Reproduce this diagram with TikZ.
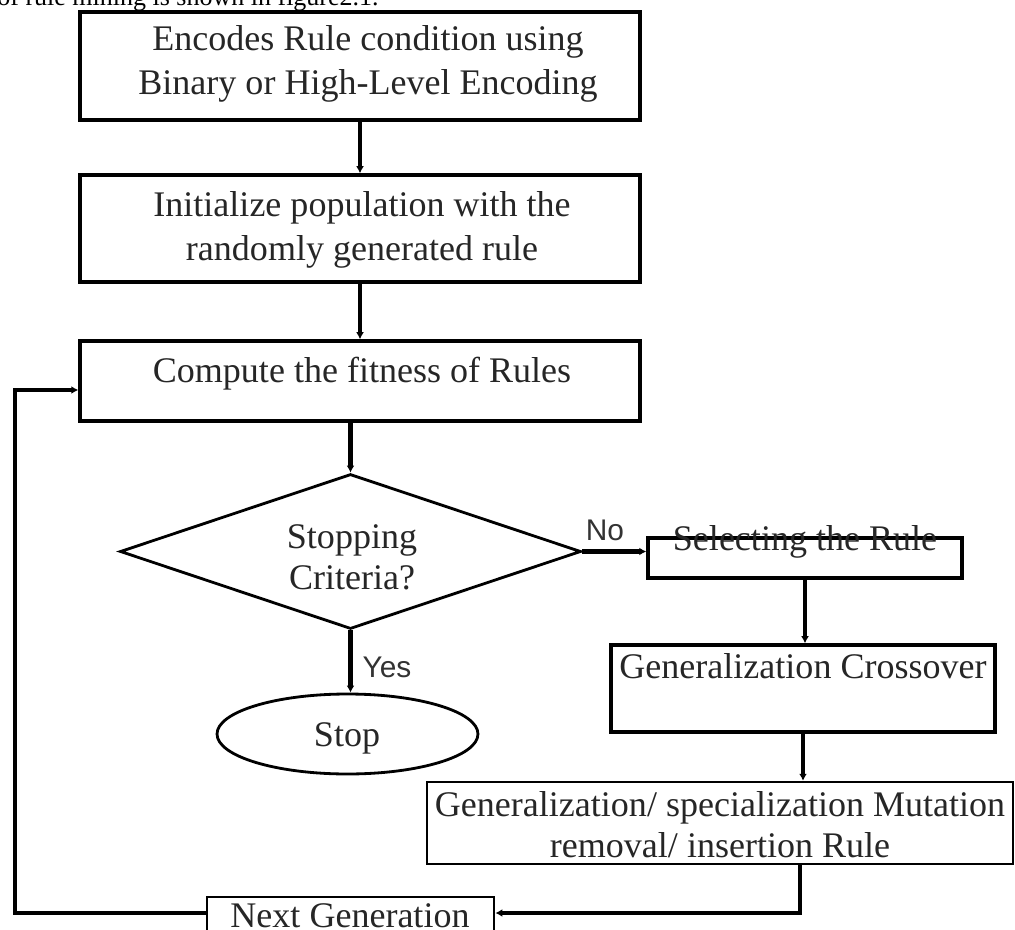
\documentclass[tikz,border=0pt]{standalone}
\usepackage{fontspec}
\setmainfont{Liberation Serif}
\newfontfamily\arialf{Liberation Sans}
\usetikzlibrary{shapes.geometric,arrows.meta}
\begin{document}
\begin{tikzpicture}[x=0.02cm,y=-0.02cm,
  box/.style={draw,rectangle,inner sep=0pt,line width=2pt},
  txt/.style={inner sep=0pt,align=center,font=\fontsize{20.5}{25}\selectfont,text=black!85},
  txtb/.style={txt,font=\fontsize{20.5}{23.3}\selectfont},
  conn/.style={line width=2.8pt,-{Latex[length=4pt,width=4.5pt]}},
  loopline/.style={line width=2.3pt,-{Latex[length=4pt,width=4.5pt]}},
  lab/.style={inner sep=0pt,font=\arialf\fontsize{17}{20}\selectfont,text=black!80}]
\useasboundingbox (0,0) rectangle (1015,930);
\clip (0,0) rectangle (1015,930);
% caption fragment cut at the top
\node[anchor=base west,inner sep=0pt,font=\fontsize{14.8}{17}\selectfont] (cap) at (-3,5) {of rule mining is shown in figure2.1.};
% boxes
\node[box,minimum width=11.2cm,minimum height=2.16cm] (b1) at (360,66) {};
\node[box,minimum width=11.2cm,minimum height=2.14cm] (b2) at (360,228.5) {};
\node[box,minimum width=11.2cm,minimum height=1.6cm] (b3) at (360,381) {};
\node[draw,diamond,inner sep=0pt,line width=1.6pt,minimum width=9.22cm,minimum height=3.1cm] (dia) at (350.5,551.5) {};
\node[draw,ellipse,inner sep=0pt,line width=1.6pt,minimum width=5.22cm,minimum height=1.6cm] (stop) at (347.5,734) {};
\node[box,minimum width=6.28cm,minimum height=0.8cm] (sel) at (805,558) {};
\node[box,minimum width=7.68cm,minimum height=1.74cm] (gen) at (803,688.5) {};
\node[box,line width=1.4pt,minimum width=11.72cm,minimum height=1.64cm] (mut) at (720,823) {};
\node[box,line width=1.6pt,minimum width=5.74cm,minimum height=1.06cm] (ng) at (350.5,923.5) {};
% texts
\node[txt] (t1) at (368,64) {Encodes Rule condition using\\Binary or High-Level Encoding};
\node[txt] (t2) at (362,230) {Initialize population with the\\randomly generated rule};
\node[txt] (t3) at (362,374) {Compute the fitness of Rules};
\node[txtb] (td) at (352,557) {Stopping\\Criteria?};
\node[txt] (ts) at (347,738) {Stop};
\node[txt] (tsel) at (805,542) {Selecting the Rule};
\node[txt] (tgen) at (803,666) {Generalization Crossover};
\node[txtb] (tmut) at (720,825) {Generalization/ specialization Mutation\\removal/ insertion Rule};
\node[txt] (tng) at (350,916) {Next Generation};
\node[lab] (no) at (605,530) {No};
\node[lab] (yes) at (387,667) {Yes};
% connectors
\draw[conn] (b1.south) -- (b2.north);
\draw[conn] (b2.south) -- (b3.north);
\draw[conn] (b3.south -| dia.north) -- (dia.north);
\draw[conn] (dia.south) -- (dia.south |- stop.north);
\draw[conn] (dia.east) -- (dia.east -| sel.west);
\draw[conn] (sel.south) -- (sel.south |- gen.north);
\draw[conn] (gen.south) -- (gen.south |- mut.north);
\coordinate (c1) at (800,913);
\draw[conn] (mut.south -| c1) -- (c1) -- (c1 -| ng.east);
\coordinate (c2) at (15,913);
\coordinate (c3) at (15,390);
\draw[loopline] (ng.west |- c2) -- (c2) -- (c3) -- (c3 -| b3.west);
\end{tikzpicture}
\end{document}
